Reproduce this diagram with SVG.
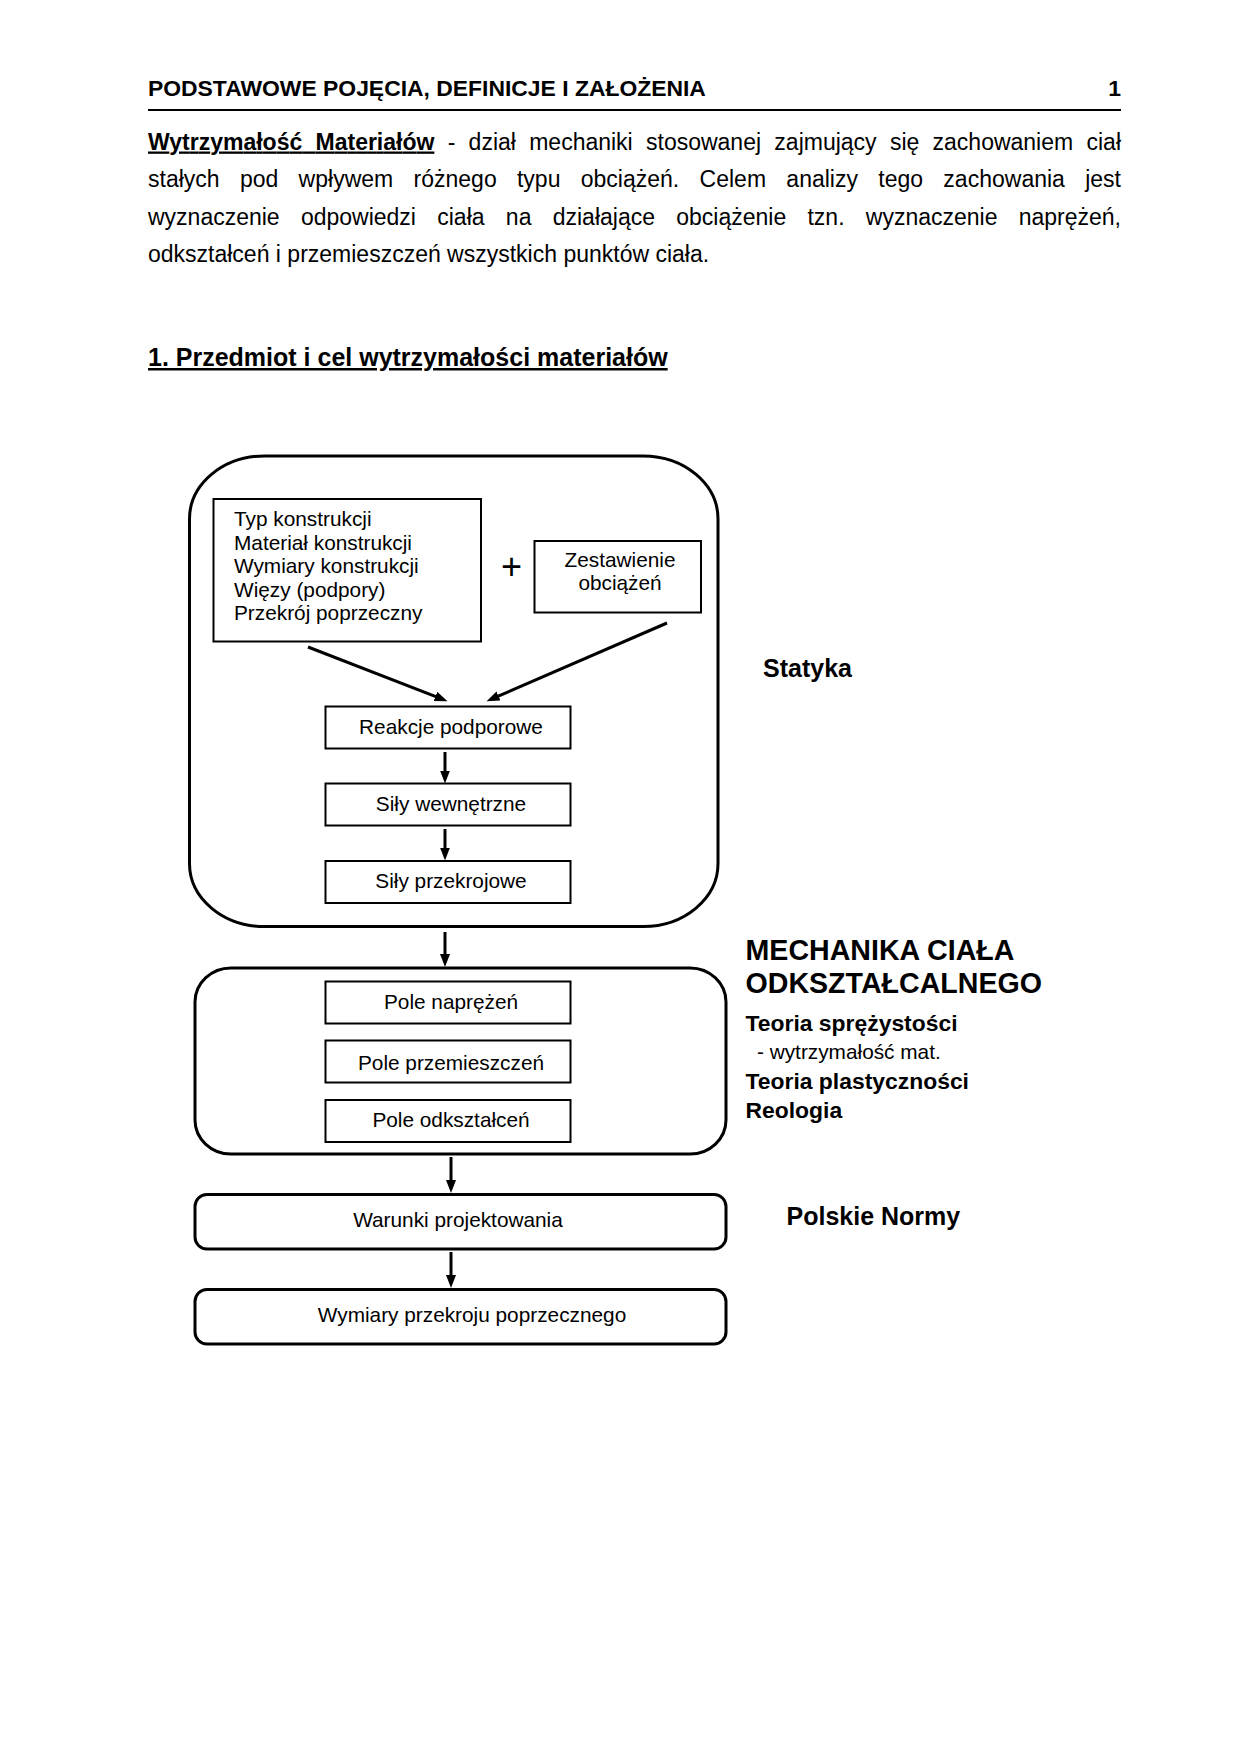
<svg xmlns="http://www.w3.org/2000/svg" width="1240" height="1754" viewBox="0 0 1240 1754">
<style>
text{font-family:"Liberation Sans",Arial,sans-serif;fill:#000}
.body{font-size:23px}
.hdr{font-size:22.9px;font-weight:bold}
.h1{font-size:25px;font-weight:bold;text-decoration:underline}
.lbl{font-size:20.8px}
.c{text-anchor:middle}
.side{font-weight:bold}
.box{fill:#fff;stroke:#000;stroke-width:2}
.outer{fill:none;stroke:#000;stroke-width:3}
.conn{stroke:#000;stroke-width:3;fill:none}
</style>
<defs>
<marker id="ah" markerUnits="userSpaceOnUse" markerWidth="15" markerHeight="11" refX="6" refY="5" orient="auto"><path d="M0,0 L13,5 L0,10 z" fill="#000"/></marker>
</defs>
<rect width="1240" height="1754" fill="#fff"/>

<g id="page-header">
<text class="hdr" x="148" y="96">PODSTAWOWE POJĘCIA, DEFINICJE I ZAŁOŻENIA</text>
<text class="hdr" x="1121" y="96" text-anchor="end">1</text>
<line x1="148" y1="110" x2="1121" y2="110" stroke="#000" stroke-width="2"/>
</g>

<g id="paragraph">
<text class="body" x="148" y="149.5" word-spacing="6.9" textLength="973" lengthAdjust="spacing"><tspan font-weight="bold" text-decoration="underline">Wytrzymałość Materiałów</tspan> - dział mechaniki stosowanej zajmujący się zachowaniem ciał</text>
<text class="body" x="148" y="187" word-spacing="13.9" textLength="973" lengthAdjust="spacing">stałych pod wpływem różnego typu obciążeń. Celem analizy tego zachowania jest</text>
<text class="body" x="148" y="224.5" word-spacing="14.9" textLength="973" lengthAdjust="spacing">wyznaczenie odpowiedzi ciała na działające obciążenie tzn. wyznaczenie naprężeń,</text>
<text class="body" x="148" y="262">odkształceń i przemieszczeń wszystkich punktów ciała.</text>
</g>

<g id="section-title">
<text class="h1" x="148" y="366">1. Przedmiot i cel wytrzymałości materiałów</text>
</g>

<g id="statyka-group">
<rect class="outer" x="189.5" y="456" width="528.5" height="470.5" rx="75" ry="63"/>
</g>

<g id="node-dane">
<rect class="box" x="213.5" y="499" width="267.5" height="142.5"/>
<text class="lbl" x="234" y="526">Typ konstrukcji</text>
<text class="lbl" x="234" y="549.5">Materiał konstrukcji</text>
<text class="lbl" x="234" y="573">Wymiary konstrukcji</text>
<text class="lbl" x="234" y="596.5">Więzy (podpory)</text>
<text class="lbl" x="234" y="620">Przekrój poprzeczny</text>
</g>

<g id="plus">
<text x="511.5" y="579" font-size="36" text-anchor="middle">+</text>
</g>

<g id="node-obciazenia">
<rect class="box" x="534.5" y="541" width="166.5" height="71.5"/>
<text class="lbl c" x="620" y="567">Zestawienie</text>
<text class="lbl c" x="620" y="590">obciążeń</text>
</g>

<g id="node-reakcje">
<rect class="box" x="325.5" y="706.5" width="245" height="42"/>
<text class="lbl c" x="451" y="733.5">Reakcje podporowe</text>
</g>

<g id="node-sily-wewn">
<rect class="box" x="325.5" y="783.5" width="245" height="42"/>
<text class="lbl c" x="451" y="811">Siły wewnętrzne</text>
</g>

<g id="node-sily-przekr">
<rect class="box" x="325.5" y="861" width="245" height="42"/>
<text class="lbl c" x="451" y="888">Siły przekrojowe</text>
</g>

<g id="mco-group">
<rect class="outer" x="195" y="968" width="531" height="186" rx="36" ry="34"/>
</g>

<g id="node-pole-napr">
<rect class="box" x="325.5" y="981.5" width="245" height="42"/>
<text class="lbl c" x="451" y="1009">Pole naprężeń</text>
</g>

<g id="node-pole-przem">
<rect class="box" x="325.5" y="1040.5" width="245" height="42"/>
<text class="lbl c" x="451" y="1069.5">Pole przemieszczeń</text>
</g>

<g id="node-pole-odkszt">
<rect class="box" x="325.5" y="1100" width="245" height="42"/>
<text class="lbl c" x="451" y="1127">Pole odkształceń</text>
</g>

<g id="node-warunki">
<rect class="outer" x="195" y="1194.5" width="531" height="54.5" rx="12"/>
<text class="lbl c" x="458" y="1227">Warunki projektowania</text>
</g>

<g id="node-wymiary">
<rect class="outer" x="195" y="1289.5" width="531" height="54.5" rx="12"/>
<text class="lbl c" x="472" y="1322">Wymiary przekroju poprzecznego</text>
</g>

<g id="connectors">
<line class="conn" x1="308" y1="647" x2="441" y2="698.6" marker-end="url(#ah)"/>
<line class="conn" x1="667" y1="623" x2="493" y2="698.4" marker-end="url(#ah)"/>
<line class="conn" x1="445" y1="752" x2="445" y2="776.5" marker-end="url(#ah)"/>
<line class="conn" x1="445" y1="829" x2="445" y2="853.5" marker-end="url(#ah)"/>
<line class="conn" x1="445" y1="932" x2="445" y2="960" marker-end="url(#ah)"/>
<line class="conn" x1="451" y1="1157" x2="451" y2="1186" marker-end="url(#ah)"/>
<line class="conn" x1="451" y1="1252" x2="451" y2="1281" marker-end="url(#ah)"/>
</g>

<g id="side-labels">
<text class="side" x="763" y="677" font-size="25">Statyka</text>
<text class="side" x="745.5" y="960" font-size="28.6">MECHANIKA CIAŁA</text>
<text class="side" x="745.5" y="992.5" font-size="28.6">ODKSZTAŁCALNEGO</text>
<text class="side" x="745.5" y="1030.5" font-size="22.9">Teoria sprężystości</text>
<text x="757" y="1059" font-size="20.8">- wytrzymałość mat.</text>
<text class="side" x="745.5" y="1088.5" font-size="22.9">Teoria plastyczności</text>
<text class="side" x="745.5" y="1117.5" font-size="22.9">Reologia</text>
<text class="side" x="786.5" y="1225" font-size="25">Polskie Normy</text>
</g>
</svg>
